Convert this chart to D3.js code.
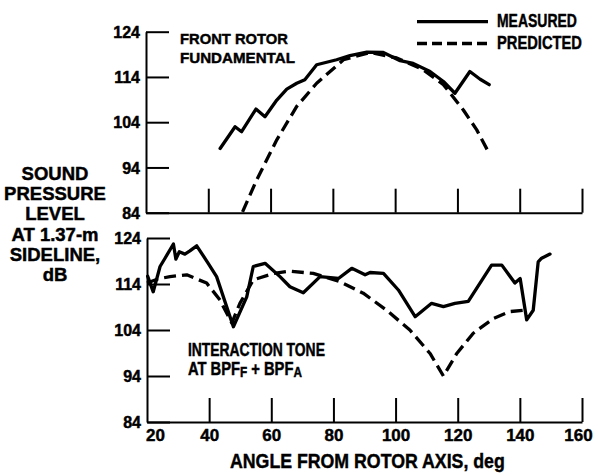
<!DOCTYPE html>
<html>
<head>
<meta charset="utf-8">
<script src="https://cdn.jsdelivr.net/npm/d3@7"></script>
<style>
  html, body { margin: 0; padding: 0; background: #fff; }
  svg text { font-family: "Liberation Sans", Arial, sans-serif; font-weight: bold; fill: #000; stroke: #000; stroke-width: 0.45px; }
</style>
</head>
<body>
<svg id="chart" width="598" height="476"></svg>
<script>
// ---- data ----
const yTicks = [84, 94, 104, 114, 124];
const xTicks = [20, 40, 60, 80, 100, 120, 140, 160];

const frontMeasuredAngle = [43.8, 48.6, 50.7, 55.3, 58.2, 62.0, 65.2, 68.4, 71.0, 74.8, 81.2, 85.5, 90.9, 96.2, 101.6, 105.8, 111.2, 115.5, 119.2, 124.0, 127.3, 130.2];
const frontMeasuredLevel = [98.2, 103.0, 101.9, 106.9, 105.2, 108.9, 111.3, 112.6, 113.4, 116.7, 117.8, 118.7, 119.5, 119.4, 117.6, 117.0, 115.2, 113.0, 110.4, 115.2, 113.5, 112.3];

const frontPredictedAngle = [51.0, 55.5, 62.0, 68.4, 74.8, 83.4, 91.9, 100.5, 109.0, 115.5, 121.9, 126.2, 130.2];
const frontPredictedLevel = [84.2, 91.2, 100.1, 107.5, 112.6, 117.8, 119.4, 118.2, 115.6, 112.3, 106.7, 102.3, 97.1];

const toneMeasuredAngle = [20.2, 22.0, 24.2, 25.8, 28.5, 29.3, 30.4, 32.2, 33.8, 36.0, 39.7, 42.4, 47.8, 52.1, 54.2, 58.0, 62.8, 66.0, 70.3, 75.7, 81.6, 85.9, 90.2, 91.8, 96.1, 100.9, 106.3, 111.6, 115.4, 119.1, 123.4, 130.9, 134.2, 138.4, 140.1, 142.2, 144.3, 145.9, 147.0, 149.7];
const toneMeasuredLevel = [115.7, 112.3, 117.8, 119.6, 122.7, 119.4, 121.0, 120.5, 121.2, 122.3, 118.5, 115.6, 104.7, 111.2, 117.8, 118.5, 115.6, 113.4, 112.1, 115.6, 115.2, 117.4, 116.0, 116.5, 116.3, 112.7, 106.9, 109.8, 109.1, 109.8, 110.2, 118.1, 118.1, 114.2, 115.2, 106.2, 108.3, 118.8, 119.6, 120.5];

const tonePredictedAngle = [20.0, 23.5, 27.4, 32.8, 39.2, 43.5, 47.3, 49.9, 54.2, 60.7, 66.0, 73.5, 82.1, 89.6, 97.1, 104.6, 111.1, 115.4, 119.7, 125.0, 131.5, 136.8, 141.1];
const tonePredictedLevel = [114.2, 115.1, 115.6, 116.0, 114.2, 110.5, 105.5, 109.8, 114.9, 116.3, 116.8, 116.3, 114.5, 112.0, 108.3, 104.0, 98.9, 94.0, 98.9, 103.3, 106.5, 108.0, 108.3];

const yTitleLines = ["SOUND", "PRESSURE", "LEVEL", "AT 1.37-m", "SIDELINE,", "dB"];
const xTitle = "ANGLE FROM ROTOR AXIS, deg";
const legendLabels = ["MEASURED", "PREDICTED"];

// ---- layout ----
const svg = d3.select("#chart");
const panels = [
  { x0: 146, x1: 582, yTop: 31.7, yBot: 212.7, showX: false },
  { x0: 147, x1: 582, yTop: 238, yBot: 422, showX: true }
];

// horizontally condense a text element to a target width, keeping its left edge (or given anchor)
function fit(sel, target, anchorX) {
  const w = sel.node().getBBox().width;
  const s = target / w;
  sel.attr("transform", `translate(${anchorX},0) scale(${s},1) translate(${-anchorX},0)`);
  return sel;
}

const pairs = (a, b) => a.map((v, i) => [v, b[i]]);

panels.forEach((p) => {
  p.x = d3.scaleLinear().domain([20, 160]).range([p.x0, p.x1]);
  p.y = d3.scaleLinear().domain([84, 124]).range([p.yBot, p.yTop]);

  const yAxis = d3.axisLeft(p.y).tickValues(yTicks).tickSizeInner(-23).tickSizeOuter(0).tickPadding(6);
  const gy = svg.append("g").attr("transform", `translate(${p.x0},0)`).call(yAxis);
  gy.attr("font-family", null).attr("font-size", null);
  gy.select(".domain").attr("stroke", "#000").attr("stroke-width", 2);
  gy.selectAll(".tick line").attr("stroke", "#000").attr("stroke-width", 2);
  gy.selectAll(".tick text").style("font-size", "16px").attr("dy", "0.36em");

  const xAxis = d3.axisBottom(p.x).tickValues(xTicks).tickSizeInner(-24).tickSizeOuter(0).tickPadding(7);
  const gx = svg.append("g").attr("transform", `translate(0,${p.yBot})`).call(xAxis);
  gx.attr("font-family", null).attr("font-size", null);
  gx.select(".domain").attr("stroke", "#000").attr("stroke-width", 2);
  gx.selectAll(".tick line").attr("stroke", "#000").attr("stroke-width", 2);
  gx.selectAll(".tick text").style("font-size", "17px").attr("dy", "0.71em")
    .attr("dx", d => d === 20 ? 8 : (d === 160 ? -4 : 0));
  if (!p.showX) gx.selectAll(".tick text").remove();
  gx.selectAll(".tick").filter(d => d === 20).select("line").remove();
});

const line = (p) => d3.line().x(d => p.x(d[0])).y(d => p.y(d[1])).curve(d3.curveLinear);

function drawSeries(p, data, dashed) {
  svg.append("path")
    .datum(data)
    .attr("d", line(p))
    .attr("fill", "none")
    .attr("stroke", "#000")
    .attr("stroke-width", 3.3)
    .attr("stroke-linejoin", "round")
    .attr("stroke-linecap", dashed ? "butt" : "round")
    .attr("stroke-dasharray", dashed ? "12,6" : null);
}

drawSeries(panels[0], pairs(frontMeasuredAngle, frontMeasuredLevel), false);
drawSeries(panels[0], pairs(frontPredictedAngle, frontPredictedLevel), true);
drawSeries(panels[1], pairs(toneMeasuredAngle, toneMeasuredLevel), false);
drawSeries(panels[1], pairs(tonePredictedAngle, tonePredictedLevel), true);

// annotations
const a1 = svg.append("text").attr("x", 180).attr("y", 44.5).style("font-size", "15.5px").text("FRONT ROTOR");
fit(a1, 108, 180);
const a2 = svg.append("text").attr("x", 180).attr("y", 63.5).style("font-size", "15.5px").text("FUNDAMENTAL");
fit(a2, 115, 180);

const b1 = svg.append("text").attr("x", 188).attr("y", 356.5).style("font-size", "17.5px").text("INTERACTION TONE");
fit(b1, 137, 188);
const b2 = svg.append("text").attr("x", 188).attr("y", 375).style("font-size", "17.5px");
b2.append("tspan").text("AT BPF");
b2.append("tspan").attr("dy", 2).style("font-size", "14px").text("F");
b2.append("tspan").attr("dy", -2).text(" + BPF");
b2.append("tspan").attr("dy", 2).style("font-size", "14px").text("A");
fit(b2, 114, 188);

// legend
const legendWidths = [80, 85];
legendLabels.forEach((lab, i) => {
  const ly = 21.7 + i * 21.8;
  svg.append("line").attr("x1", 417).attr("x2", 488).attr("y1", ly).attr("y2", ly)
    .attr("stroke", "#000").attr("stroke-width", 3.3)
    .attr("stroke-dasharray", i === 1 ? "10,5" : null);
  const t = svg.append("text").attr("x", 497).attr("y", ly + 5.5).style("font-size", "18.5px").text(lab);
  fit(t, legendWidths[i], 497);
});

// y title
svg.append("g").selectAll("text").data(yTitleLines).join("text")
  .attr("x", 55).attr("y", (d, i) => 180 + i * 20.2)
  .attr("text-anchor", "middle").style("font-size", "18.5px").text(d => d);

// x title
const xt = svg.append("text").attr("x", 230).attr("y", 468).style("font-size", "21px").text(xTitle);
fit(xt, 275, 230);
</script>
</body>
</html>
